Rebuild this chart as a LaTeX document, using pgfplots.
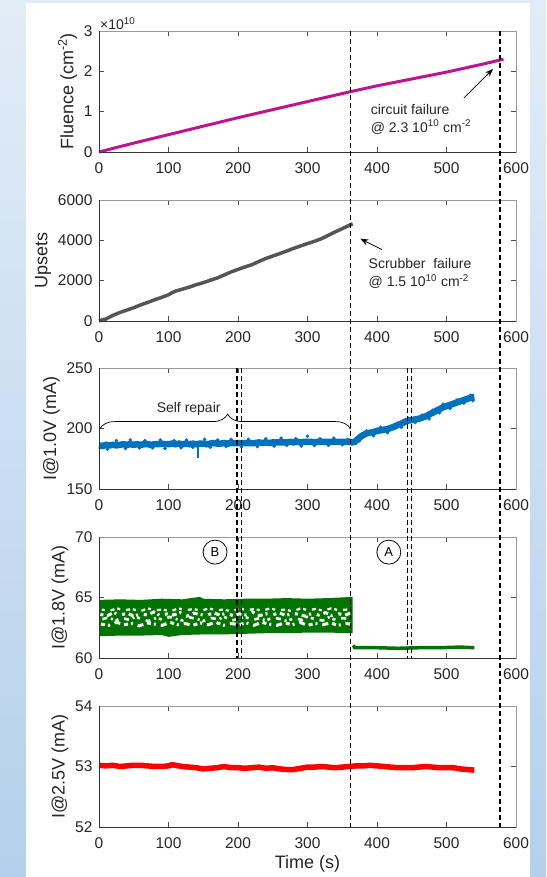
\documentclass[border=0pt]{standalone}
\usepackage{pgfplots}
\pgfplotsset{compat=1.18}
\usepackage{fontspec}
\setmainfont{Liberation Sans}
\usetikzlibrary{decorations.pathreplacing,arrows.meta}
\definecolor{bgtop}{RGB}{226,236,247}
\definecolor{bgbot}{RGB}{180,208,236}
\definecolor{fluc}{RGB}{190,20,140}
\definecolor{upc}{RGB}{85,85,85}
\definecolor{bluec}{RGB}{0,114,189}
\definecolor{greenc}{RGB}{0,115,0}
\definecolor{redc}{RGB}{255,0,0}
\definecolor{txt}{RGB}{38,38,38}
\newcommand{\tickfont}{\fontsize{15.5}{17}\selectfont}
\newcommand{\labfont}{\fontsize{18}{20}\selectfont}
\newcommand{\annfont}{\fontsize{14}{18}\selectfont}
\pgfplotsset{
  panel/.style={
    scale only axis, width=417pt, height=121pt,
    xmin=0, xmax=600, xtick={0,100,200,300,400,500,600},
    clip=false,
    axis line style={draw=black!40, line width=0.7pt},
    tick align=inside, major tick length=5pt,
    tick style={black!70, line width=0.7pt},
    ticklabel style={font=\tickfont, text=txt},
    xticklabel style={yshift=-7pt},
    yticklabel style={xshift=-3pt},
    /pgf/number format/assume math mode=true,
    /pgf/number format/1000 sep={},
    scaled ticks=false,
    ylabel style={font=\labfont, text=txt},
    xlabel style={font=\labfont, text=txt},
    after end axis/.code={
      \draw[black!80, line width=0.8pt] (rel axis cs:0,1) -- (rel axis cs:0,0) -- (rel axis cs:1,0);
    },
  },
}
\begin{document}
\begin{tikzpicture}[x=1pt,y=1pt]
\path[use as bounding box] (0,0) rectangle (546,877);
\shade[top color=bgtop, bottom color=bgbot] (0,0) rectangle (546,877);
\fill[white] (26,0) rectangle (530,874);

% ---------- Panel 1: Fluence ----------
\begin{axis}[panel, at={(99pt,725pt)}, anchor=south west,
  ymin=0, ymax=3, ytick={0,1,2,3},
  ylabel={Fluence (cm\textsuperscript{-2})}]
\addplot[fluc, line width=3pt] coordinates {
 (0,0) (50,0.22) (100,0.43) (150,0.64) (200,0.85) (250,1.05) (300,1.25)
 (363,1.5) (400,1.64) (450,1.81) (500,1.98) (550,2.17) (582,2.3)};
\node[font=\annfont, anchor=west, align=left, text=txt] at (axis cs:386,0.82)
  {circuit failure\\@ 2.3 10\textsuperscript{10} cm\textsuperscript{-2}};
\draw[-{Stealth[length=8pt,width=6pt]}, line width=0.8pt] (axis cs:525,1.34) -- (axis cs:567,2.06);
\node[anchor=south west, inner sep=1pt, font=\fontsize{14}{14}\selectfont, text=txt] at (rel axis cs:0,1) {×10\textsuperscript{10}};
\coordinate (d1t) at (axis cs:362,3);
\coordinate (d2t) at (axis cs:577,3);
\end{axis}

% ---------- Panel 2: Upsets ----------
\begin{axis}[panel, at={(99pt,556pt)}, anchor=south west,
  ymin=0, ymax=6000, ytick={0,2000,4000,6000},
  ylabel={Upsets}]
\addplot[upc, line width=3.5pt] coordinates {
 (0,0) (5,60) (10,100) (20,280) (30,420) (40,540) (50,660) (60,800) (70,920)
 (80,1050) (90,1170) (100,1300) (105,1400) (110,1480) (120,1580) (130,1680)
 (140,1800) (150,1900) (160,2020) (170,2130) (180,2280) (190,2430) (200,2560)
 (210,2680) (220,2790) (230,2950) (240,3100) (250,3220) (260,3340) (270,3470)
 (280,3600) (290,3720) (300,3840) (310,3950) (320,4080) (330,4250) (340,4420)
 (350,4580) (360,4740) (365,4820)};
\node[font=\annfont, anchor=west, align=left, text=txt] at (axis cs:383,2340)
  {Scrubber\ \ failure\\@ 1.5 10\textsuperscript{10} cm\textsuperscript{-2}};
\draw[-{Stealth[length=8pt,width=6pt]}, line width=0.8pt] (axis cs:407,3540) -- (axis cs:376,4080);
\end{axis}

% ---------- Panel 3: I@1.0V ----------
\begin{axis}[panel, at={(99pt,388pt)}, anchor=south west,
  ymin=150, ymax=250, ytick={150,200,250},
  ylabel={I@1.0V (mA)}]
\addplot[bluec, line width=6.5pt] coordinates {
 (0,186) (5,185.5) (10,186.5) (15,186) (20,186.5) (25,186) (30,186.5) (35,187)
 (40,186.5) (45,187) (50,186.5) (55,187) (60,186.5) (65,187) (70,187) (75,186.5)
 (80,187) (85,187) (90,187.5) (95,187) (100,187) (105,187.5) (110,187) (115,187.5)
 (120,187) (125,187.5) (130,187) (135,187.5) (140,187) (145,187.5) (150,187.5)
 (155,187) (160,187.5) (165,188) (170,187.5) (175,187.5) (180,188) (185,187.5)
 (190,188) (195,188) (200,188) (205,188) (210,188) (215,188) (220,188) (225,188)
 (230,188.5) (235,188) (240,188.5) (245,188) (250,188.5) (255,188.5) (260,188.5)
 (265,188.5) (270,188.5) (275,189) (280,188.5) (285,189) (290,188.5) (295,189)
 (300,189) (305,189) (310,188.5) (315,189) (320,189) (325,189) (330,189) (335,189)
 (340,189) (345,189) (350,189) (355,189) (360,189) (364,188.5) (368,189)
 (372,191) (376,193) (380,194.5) (385,196) (390,196.5) (395,197) (400,198)
 (405,198.5) (410,199) (415,199.5) (420,200.5) (425,201.5) (430,203) (435,204)
 (440,205.5) (445,206.5) (450,207) (455,207.5) (460,208) (465,209) (470,210)
 (475,211.5) (480,213) (485,214.5) (490,216) (495,217.5) (500,218.5) (505,219.5)
 (510,220.5) (515,221.5) (520,222.5) (525,223.5) (530,224.5) (535,225.5) (540,226)};
\addplot[bluec, line width=2pt] coordinates {(142,187) (142,176)};
\addplot[only marks, mark=*, mark size=1.6pt, mark options={draw=bluec, fill=bluec}] coordinates {
 (12,183) (25,190) (38,183.5) (45,190.5) (58,184) (66,190) (77,184) (88,190.5)
 (95,183.5) (108,190) (118,184) (126,190.5) (135,184.5) (152,191) (160,184.5)
 (171,190.5) (183,185) (190,191) (205,185) (215,191) (228,185) (240,191.5)
 (252,185.5) (262,192) (270,186) (283,191.5) (291,185.5) (300,193.5) (310,186)
 (318,191.5) (330,186) (338,192) (350,186.5) (358,191)
 (375,190) (385,198) (395,194) (405,201) (415,196.5) (425,203) (435,201)
 (445,208.5) (455,205) (465,211) (475,208) (480,215) (490,213) (495,220)
 (505,216.5) (515,223.5) (525,221) (535,227.5) (538,223)};
\draw[decorate, decoration={brace, amplitude=15pt, aspect=0.51}, line width=0.7pt]
  (axis cs:1,199.5) -- (axis cs:362,199.5);
\node[font=\annfont, text=txt] at (axis cs:129,216.5) {Self repair};
\coordinate (d3a) at (axis cs:198.5,250);
\coordinate (d3b) at (axis cs:204.5,250);
\coordinate (d3c) at (axis cs:443.5,250);
\coordinate (d3d) at (axis cs:449.5,250);
\end{axis}

% ---------- Panel 4: I@1.8V ----------
\begin{axis}[panel, at={(99pt,219pt)}, anchor=south west,
  ymin=60, ymax=70, ytick={60,65,70},
  ylabel={I@1.8V (mA)}]
% full band
\addplot[fill=greenc, draw=none] coordinates {
 (0,64.8) (30,64.85) (60,64.8) (90,64.9) (120,64.85) (145,65.05) (150,64.9)
 (180,64.85) (210,64.9) (240,64.9) (270,64.95) (300,64.9) (330,64.95) (365,65.05)
 (365,62.05) (330,62.1) (300,62.1) (270,62.05) (240,62.05) (210,62.0) (180,61.95)
 (150,61.95) (120,61.9) (100,61.75) (90,61.9) (60,61.85) (30,61.85) (0,61.8)} -- cycle;
% white speckle through the middle
\addplot[white, line width=3pt, dash pattern=on 4pt off 3pt on 2pt off 5pt on 6pt off 4pt] coordinates {
 (3,62.8) (14,62.7) (25,62.95) (36,62.75) (47,62.85) (58,62.65) (69,62.9) (80,62.8)
 (91,62.7) (102,62.95) (113,62.75) (124,62.85) (135,62.7) (146,62.9) (157,62.75)
 (168,62.95) (179,62.7) (190,62.85) (201,62.75) (212,62.9) (223,62.7) (234,62.95)
 (245,62.8) (256,62.7) (267,62.9) (278,62.75) (289,62.95) (300,62.7) (311,62.85)
 (322,62.75) (333,62.9) (344,62.7) (355,62.85) (362,62.8)};
\addplot[white, line width=2.6pt, dash pattern=on 5pt off 4pt on 2pt off 3pt on 3pt off 6pt] coordinates {
 (5,63.2) (13,63.35) (24,63.1) (33,63.3) (44,63.15) (52,63.4) (63,63.2) (71,63.05)
 (82,63.3) (93,63.15) (101,63.4) (112,63.2) (120,63.1) (131,63.35) (142,63.2)
 (150,63.05) (161,63.3) (172,63.2) (180,63.4) (191,63.1) (202,63.25) (210,63.4)
 (221,63.15) (232,63.3) (240,63.1) (251,63.35) (262,63.2) (270,63.05) (281,63.3)
 (292,63.15) (300,63.4) (311,63.2) (322,63.1) (330,63.35) (341,63.15) (352,63.3) (361,63.2)};
\addplot[white, line width=3pt, dash pattern=on 3pt off 4pt on 5pt off 3pt on 2pt off 6pt] coordinates {
 (2,63.6) (12,63.5) (21,63.75) (30,63.55) (41,63.7) (50,63.45) (60,63.65) (69,63.55)
 (79,63.8) (88,63.5) (98,63.65) (107,63.55) (117,63.75) (126,63.45) (136,63.7)
 (145,63.6) (155,63.5) (164,63.75) (174,63.55) (183,63.7) (193,63.5) (202,63.65)
 (212,63.55) (221,63.8) (231,63.5) (240,63.65) (250,63.55) (259,63.75) (269,63.5)
 (278,63.7) (288,63.6) (297,63.45) (307,63.7) (316,63.55) (326,63.75) (335,63.5)
 (345,63.65) (354,63.55) (362,63.7)};
\addplot[white, line width=2.2pt, dash pattern=on 3pt off 6pt on 4pt off 3pt] coordinates {
 (4,64.0) (15,63.9) (26,64.1) (37,63.95) (48,64.05) (59,63.85) (70,64.1) (81,63.95)
 (92,64.0) (103,63.85) (114,64.1) (125,63.95) (136,64.05) (147,63.9) (158,64.1)
 (169,63.95) (180,64.0) (191,63.85) (202,64.1) (213,63.95) (224,64.05) (235,63.9)
 (246,64.1) (257,63.95) (268,64.0) (279,63.85) (290,64.1) (301,63.95) (312,64.05)
 (323,63.9) (334,64.1) (345,63.95) (356,64.0) (362,63.9)};
% after failure
\addplot[greenc, line width=3.5pt] coordinates {
 (366,61.05) (368,60.85) (400,60.85) (430,60.8) (460,60.85) (490,60.85) (520,60.9) (540,60.85)};
\node[circle, draw, line width=0.8pt, minimum size=24pt, inner sep=0pt, font=\fontsize{13}{13}\selectfont] at (axis cs:167,68.75) {B};
\node[circle, draw, line width=0.8pt, minimum size=24pt, inner sep=0pt, font=\fontsize{13}{13}\selectfont] at (axis cs:417,68.75) {A};
\coordinate (d4a) at (axis cs:198.5,60);
\coordinate (d4b) at (axis cs:204.5,60);
\coordinate (d4c) at (axis cs:443.5,60);
\coordinate (d4d) at (axis cs:449.5,60);
\end{axis}

% ---------- Panel 5: I@2.5V ----------
\begin{axis}[panel, at={(99pt,50pt)}, anchor=south west,
  ymin=52, ymax=54, ytick={52,53,54},
  ylabel={I@2.5V (mA)}, xlabel={Time (s)}]
\addplot[redc, line width=5.5pt] coordinates {
 (0,53.02) (10,53.01) (20,53.02) (30,53.0) (40,53.01) (50,53.02) (60,53.02)
 (70,53.01) (80,53.0) (90,53.0) (100,53.01) (105,53.03) (110,53.02) (120,53.0)
 (130,52.99) (140,52.98) (150,52.96) (160,52.97) (170,52.98) (180,53.0) (190,52.98)
 (200,52.98) (210,52.97) (220,52.98) (230,52.99) (240,52.97) (250,52.98) (260,52.96)
 (270,52.95) (280,52.95) (290,52.97) (300,52.99) (310,52.99) (320,53.0) (330,52.99)
 (340,52.98) (350,52.99) (360,53.0) (370,53.01) (380,53.01) (390,53.02) (400,53.01)
 (410,53.0) (420,52.99) (430,52.98) (440,52.98) (450,52.98) (460,52.99) (470,53.0)
 (480,52.99) (490,52.98) (500,52.98) (510,52.98) (520,52.96) (530,52.95) (540,52.94)};
\coordinate (d1b) at (axis cs:362,52);
\coordinate (d2b) at (axis cs:577,52);
\end{axis}

\begin{scope}[black, line width=1.2pt, dash pattern=on 5pt off 3pt]
\draw (d1t) -- (d1b);
\draw (d2t) -- (d2b);
\draw (d3a) -- (d4a);
\draw (d3b) -- (d4b);
\draw (d3c) -- (d4c);
\draw (d3d) -- (d4d);
\end{scope}
\end{tikzpicture}
\end{document}
